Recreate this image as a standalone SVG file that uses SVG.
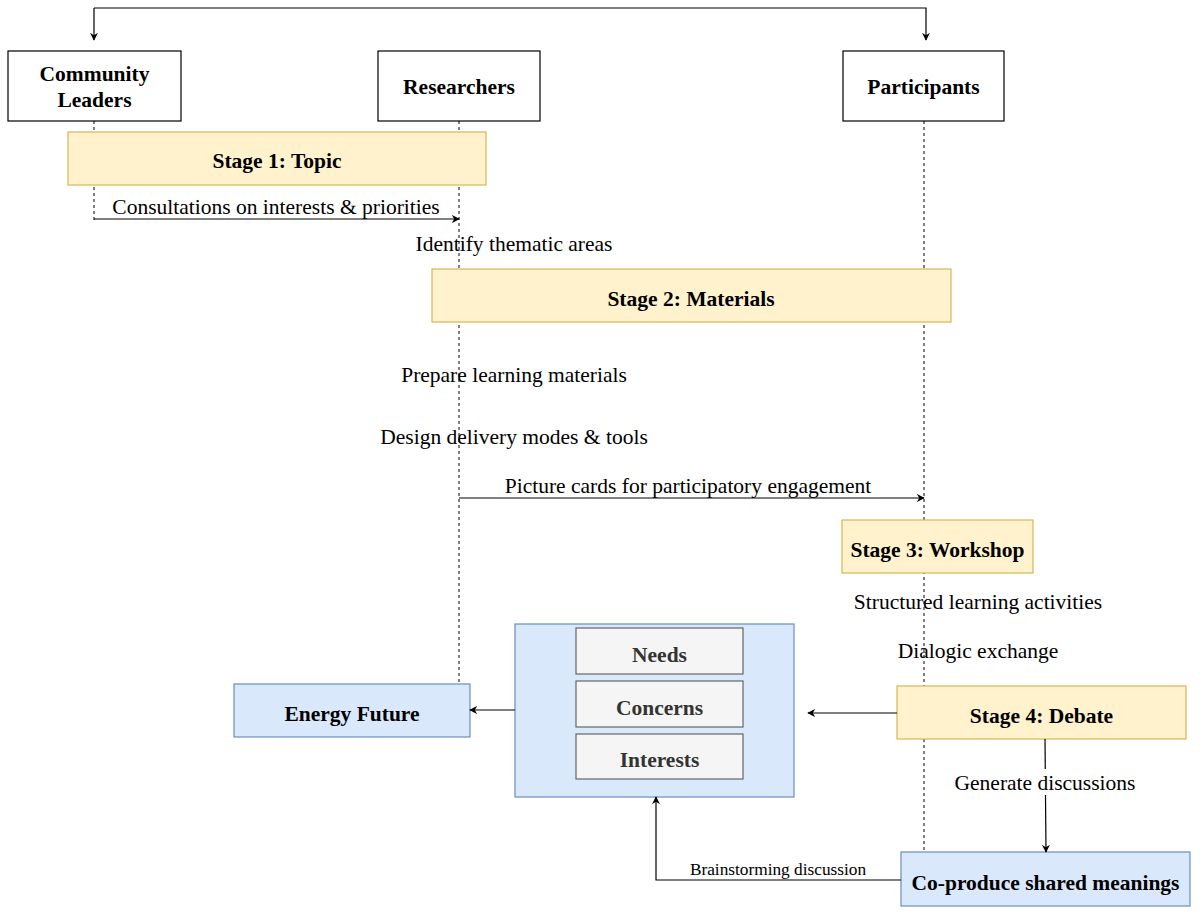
<svg xmlns="http://www.w3.org/2000/svg" width="1200" height="915" viewBox="0 0 1200 915">
<defs>
<marker id="arr" viewBox="0 0 10 10" refX="9" refY="5" markerWidth="8" markerHeight="8" markerUnits="userSpaceOnUse" orient="auto">
<path d="M0,0 L10,5 L0,10 L3,5 Z" fill="#000"/>
</marker>
<style>
.t{font-family:"Liberation Serif","Times New Roman",serif;font-size:21.5px;fill:#000;text-anchor:middle}
.b{font-weight:bold}
.g{fill:#333}
.s{font-size:17.3px}
.actor{fill:#fff;stroke:#000;stroke-width:1.2}
.stage{fill:#fff2cc;stroke:#d6b656;stroke-width:1.2}
.blue{fill:#dae8fc;stroke:#6c8ebf;stroke-width:1.2}
.grey{fill:#f5f5f5;stroke:#666;stroke-width:1.2}
.life{stroke:#000;stroke-width:1;stroke-dasharray:3,3;fill:none}
.c{stroke:#000;stroke-width:1.2;fill:none}
</style>
</defs>
<rect width="1200" height="915" fill="#fff"/>
<g id="lifelines">
<line class="life" x1="94" y1="121" x2="94" y2="220"/>
<line class="life" x1="459" y1="121" x2="459" y2="684"/>
<line class="life" x1="924" y1="121" x2="924" y2="852"/>
</g>
<g id="community-leaders"><rect class="actor" x="8" y="51" width="173" height="70"/><text class="t b" x="94.5" y="81">Community</text><text class="t b" x="94.5" y="107">Leaders</text></g>
<g id="researchers"><rect class="actor" x="378" y="51" width="162" height="70"/><text class="t b" x="459" y="94">Researchers</text></g>
<g id="participants"><rect class="actor" x="843" y="51" width="161" height="70"/><text class="t b" x="923.5" y="94">Participants</text></g>
<g id="stage1"><rect class="stage" x="68" y="132" width="418" height="53"/><text class="t b" x="277" y="168">Stage 1: Topic</text></g>
<g id="stage2"><rect class="stage" x="432" y="269" width="519" height="53"/><text class="t b" x="691" y="306">Stage 2: Materials</text></g>
<g id="stage3"><rect class="stage" x="842" y="520" width="191" height="53"/><text class="t b" x="937.5" y="557">Stage 3: Workshop</text></g>
<g id="stage4"><rect class="stage" x="897" y="686" width="289" height="53"/><text class="t b" x="1041.5" y="723">Stage 4: Debate</text></g>
<g id="perspectives">
<rect class="blue" x="515" y="624" width="279" height="173"/>
<g id="needs"><rect class="grey" x="576" y="628" width="167" height="46"/><text class="t b g" x="659.5" y="662">Needs</text></g>
<g id="concerns"><rect class="grey" x="576" y="681" width="167" height="46"/><text class="t b g" x="659.5" y="715">Concerns</text></g>
<g id="interests"><rect class="grey" x="576" y="734" width="167" height="45"/><text class="t b g" x="659.5" y="767">Interests</text></g>
</g>
<g id="energy-future"><rect class="blue" x="234" y="684" width="236" height="53"/><text class="t b" x="352" y="721">Energy Future</text></g>
<g id="co-produce"><rect class="blue" x="901" y="852" width="289" height="54"/><text class="t b" x="1045.5" y="890">Co-produce shared meanings</text></g>
<g id="connectors">
<polyline class="c" points="94,8 926,8 926,40" marker-end="url(#arr)"/>
<line class="c" x1="94" y1="8" x2="94" y2="40" marker-end="url(#arr)"/>
<line class="c" x1="94" y1="219" x2="459" y2="219" marker-end="url(#arr)"/>
<line class="c" x1="459" y1="498" x2="924" y2="498" marker-end="url(#arr)"/>
<line class="c" x1="897" y1="713" x2="808" y2="713" marker-end="url(#arr)"/>
<line class="c" x1="515" y1="710" x2="470" y2="710" marker-end="url(#arr)"/>
<line class="c" x1="1045" y1="739" x2="1046" y2="852" marker-end="url(#arr)"/>
<polyline class="c" points="901,880 656,880 656,797" marker-end="url(#arr)"/>
</g>
<g id="labels">
<text class="t" x="276" y="214">Consultations on interests &amp; priorities</text>
<text class="t" x="514" y="251">Identify thematic areas</text>
<text class="t" x="514" y="382">Prepare learning materials</text>
<text class="t" x="514" y="444">Design delivery modes &amp; tools</text>
<text class="t" x="688" y="493">Picture cards for participatory engagement</text>
<text class="t" x="978" y="609">Structured learning activities</text>
<text class="t" x="978" y="658">Dialogic exchange</text>
<rect x="950" y="769" width="190" height="26" fill="#fff"/>
<text class="t" x="1045" y="790">Generate discussions</text>
<text class="t s" x="778" y="875">Brainstorming discussion</text>
</g>
</svg>
